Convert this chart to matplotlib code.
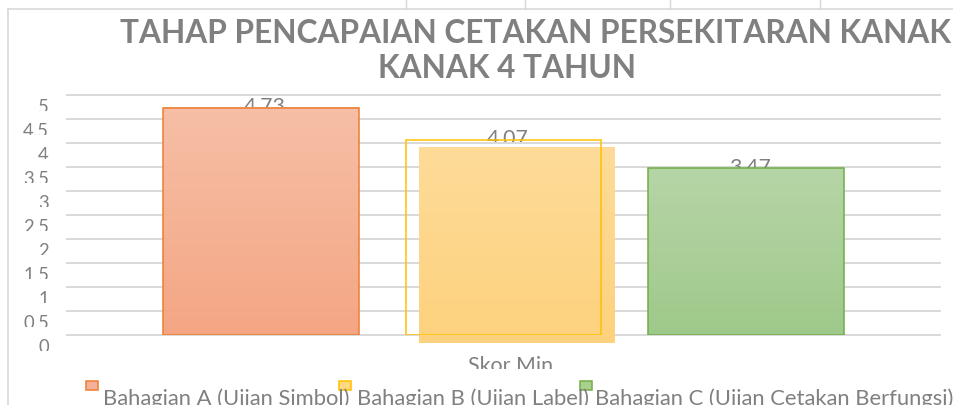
import matplotlib
matplotlib.use('Agg')
import matplotlib.pyplot as plt
import numpy as np
from matplotlib.transforms import ScaledTranslation, Bbox
from matplotlib.patches import Rectangle
from matplotlib.lines import Line2D
from matplotlib.colors import LinearSegmentedColormap

# ---------------- data ----------------
title_lines = ["TAHAP PENCAPAIAN CETAKAN PERSEKITARAN KANAK", "KANAK 4 TAHUN"]
category = "Skor Min"
series = ["Bahagian A (Ujian Simbol)", "Bahagian B (Ujian Label)",
          "Bahagian C (Ujian Cetakan Berfungsi)"]
values = [4.73, 4.07, 3.47]
yticks = [0, 0.5, 1, 1.5, 2, 2.5, 3, 3.5, 4, 4.5, 5]
ytick_labels = ["0", "0.5", "1", "1.5", "2", "2.5", "3", "3.5", "4", "4.5", "5"]

# ---------------- style ----------------
W, H, DPI = 954, 405, 100
FONT = "Lato"
GRAY = "#808080"
GRID = "#d9d9d9"
edge_colors = ["#ed7d31", "#ffc000", "#70ad47"]
grad_top = ["#f6bfa6", "#fedb98", "#b6d5a7"]
grad_bot = ["#f4a684", "#fdd27e", "#9fc98a"]
legend_face = ["#f4b09a", "#ffd980", "#a9d18e"]

plt.rcParams['font.family'] = [FONT, 'DejaVu Sans']

fig = plt.figure(figsize=(W / DPI, H / DPI), dpi=DPI)
fig.patch.set_facecolor("white")
renderer = fig.canvas.get_renderer()


def fx(x):
    return x / W


def fy(y):
    return 1 - y / H


def px_off(dx, dy):
    return ScaledTranslation(dx / DPI, dy / DPI, fig.dpi_scale_trans)


def fit_size(s, target, **kw):
    t = fig.text(0, 0, s, fontsize=10, **kw)
    w = t.get_window_extent(renderer).width
    t.remove()
    return 10 * target / w


def cap_px(size):
    return 0.72 * size * DPI / 72


def clip_below(y_img):
    # visible region: everything above image row y_img
    return Bbox([[0, H - y_img], [W, H + 50]])


# ---------------- sheet / frame lines ----------------
for x in [406, 525, 670, 820]:
    fig.add_artist(Line2D([fx(x), fx(x)], [fy(0), fy(9)], color="#d6d6d6", lw=1.0,
                          transform=fig.transFigure))
fig.add_artist(Line2D([fx(8.5), fx(8.5)], [fy(9), fy(405)], color="#d9d9d9", lw=1.2,
                      transform=fig.transFigure))
fig.add_artist(Line2D([fx(8.5), fx(954)], [fy(9), fy(9)], color="#d9d9d9", lw=1.2,
                      transform=fig.transFigure))

# ---------------- axes ----------------
L, R, T, B = 67, 940, 95, 335
ax = fig.add_axes([fx(L), fy(B), (R - L) / W, (B - T) / H])
ax.set_facecolor("none")
for s in ax.spines.values():
    s.set_visible(False)
ax.set_yticks(yticks)
ax.set_ylim(0, 5)
ax.set_xlim(-0.8, 2.8)
ax.tick_params(left=False, labelleft=False, bottom=False, labelbottom=False)
ax.yaxis.grid(True, color=GRID, lw=1.4)
ax.set_axisbelow(True)
for gl in ax.get_ygridlines():
    gl.set_clip_on(False)

x = np.arange(len(series))
width = 0.808

# bars
for i, (xi, v) in enumerate(zip(x, values)):
    cmap = LinearSegmentedColormap.from_list("g%d" % i, [grad_bot[i], grad_top[i]])
    grad = np.linspace(0, 1, 256).reshape(-1, 1)
    if i == 1:
        tr = ax.transData + px_off(13, -8)
        im = ax.imshow(grad, extent=[xi - width / 2, xi + width / 2, 0, v], origin="lower",
                       aspect="auto", cmap=cmap, zorder=2.5, transform=tr)
    else:
        im = ax.imshow(grad, extent=[xi - width / 2, xi + width / 2, 0, v], origin="lower",
                       aspect="auto", cmap=cmap, zorder=2.5)
    im.set_clip_on(False)
    ax.bar(xi, v, width, facecolor="none", edgecolor=edge_colors[i], lw=1.1, zorder=3)

ax.set_xlim(-0.8, 2.8)
ax.set_ylim(0, 5)

# data labels (partially hidden by bars)
lab_size = fit_size("4.73", 42, family=[FONT])
cap = cap_px(lab_size)
for xi, v in zip(x, values):
    t = ax.text(xi, v, f"{v:.2f}", fontsize=lab_size, color=GRAY, ha="center", va="baseline",
                transform=ax.transData + px_off(4, 10 - cap), zorder=2)
    vy = ax.transData.transform((xi, v))[1]
    top_img = H - (vy + 10)
    t.set_clip_box(clip_below(top_img + 12))
    t.set_clip_on(True)

# y tick labels (clipped at bottom)
tick_size = fit_size("4.5", 26, family=[FONT])
cap_t = cap_px(tick_size)
for v, s in zip(yticks, ytick_labels):
    t = ax.text(0, v, s, fontsize=tick_size, color=GRAY, ha="right", va="baseline",
                transform=ax.get_yaxis_transform() + px_off(-18, -(5 + cap_t)))
    vy = ax.transData.transform((0, v))[1]
    t.set_clip_box(clip_below(H - vy + 16))
    t.set_clip_on(True)
    t.set_clip_path(None)

# category label
cat_size = fit_size(category, 85, family=[FONT])
cap_c = cap_px(cat_size)
t = ax.text(1, 0, category, fontsize=cat_size, color=GRAY, ha="center", va="baseline",
            transform=ax.get_xaxis_transform() + px_off(7, -(22 + cap_c)))
t.set_clip_box(clip_below(369))
t.set_clip_on(True)

# title
title_size = fit_size(title_lines[1], 259, family=[FONT], weight="bold")
cap_h = cap_px(title_size)
fig.text(fx(120), fy(20 + cap_h), title_lines[0], fontsize=title_size, weight="bold",
         color=GRAY, ha="left", va="baseline")
fig.text(fx(378), fy(55 + cap_h), title_lines[1], fontsize=title_size, weight="bold",
         color=GRAY, ha="left", va="baseline")

# legend
leg_size = fit_size(series[0], 247, family=[FONT])
cap_l = cap_px(leg_size)
marker_x = [86, 339, 580]
text_x = [103, 357, 595]
for i, s in enumerate(series):
    fig.add_artist(Rectangle((fx(marker_x[i]), fy(390)), 12 / W, 9 / H,
                             facecolor=legend_face[i], edgecolor=edge_colors[i], lw=1.1,
                             transform=fig.transFigure))
    fig.text(fx(text_x[i]), fy(389 + cap_l), s, fontsize=leg_size, color=GRAY,
             ha="left", va="baseline")

fig.savefig("out.png", dpi=DPI, facecolor="white")
